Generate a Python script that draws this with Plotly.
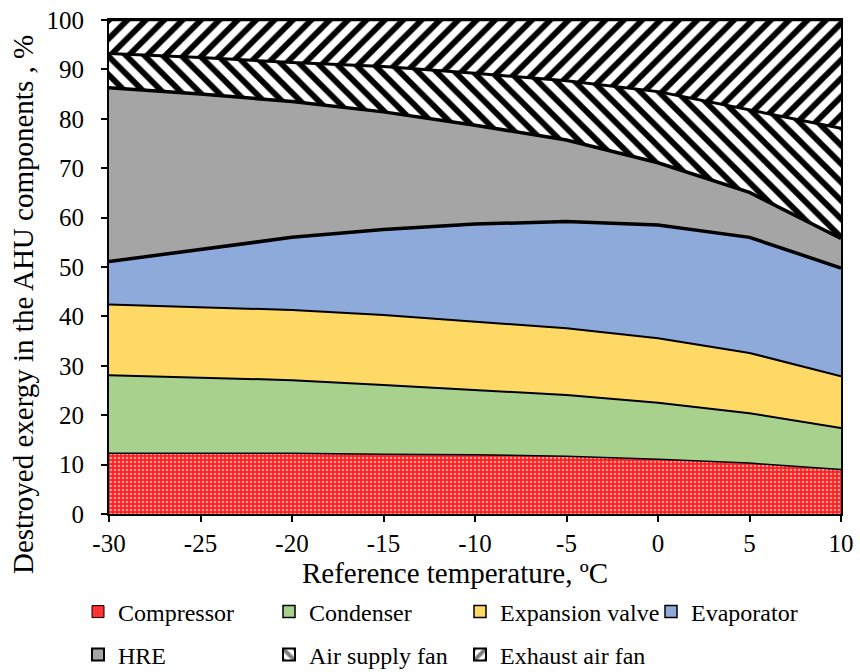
import plotly.graph_objects as go

# Reference temperature (°C)
temps = [-30, -25, -20, -15, -10, -5, 0, 5, 10]
x_tick_vals = [-30, -25, -20, -15, -10, -5, 0, 5, 10]
x_tick_text = ["-30", "-25", "-20", "-15", "-10", "-5", "0", "5", "10"]
y_tick_vals = [0, 10, 20, 30, 40, 50, 60, 70, 80, 90, 100]

# Share of destroyed exergy per AHU component (%)
compressor = [12.3, 12.3, 12.3, 12.1, 12.0, 11.7, 11.1, 10.3, 9.0]
condenser = [15.8, 15.3, 14.8, 14.0, 13.1, 12.4, 11.4, 10.1, 8.4]
expansion_valve = [14.3, 14.3, 14.2, 14.2, 13.8, 13.5, 13.1, 12.2, 10.5]
evaporator = [8.7, 11.6, 14.7, 17.3, 19.8, 21.6, 22.9, 23.4, 21.9]
hre = [35.2, 31.5, 27.5, 23.8, 20.0, 16.5, 12.6, 9.1, 6.0]
air_supply_fan = [6.9, 7.4, 7.9, 9.2, 10.5, 12.0, 14.4, 16.7, 22.3]
exhaust_air_fan = [6.8, 7.6, 8.6, 9.4, 10.8, 12.3, 14.5, 18.2, 21.9]

x_title = "Reference temperature, ºC"
y_title = "Destroyed exergy in the AHU components , %"

FONT = "Liberation Serif"

# Plot-area geometry in pixels
W, H = 860, 672
ML, MR, MT, MB = 109, 19, 20, 158
PW, PH = W - ML - MR, H - MT - MB


def px_to_paper_x(px):
    return (px - ML) / PW


def px_to_paper_y(py):
    return (H - MB - py) / PH


red_pattern = dict(shape=".", fgcolor="#ff9a9a", bgcolor="#ff1e1e", size=4, solidity=0.35, fillmode="replace")
back_hatch = dict(shape="\\", fgcolor="black", bgcolor="white", size=13, solidity=0.45, fillmode="replace")
fwd_hatch = dict(shape="/", fgcolor="black", bgcolor="white", size=13, solidity=0.45, fillmode="replace")

# name, values, fill style, boundary line width, legend key style, legend group
series = [
    ("Compressor", compressor, dict(fillcolor="#ff1e1e", fillpattern=red_pattern), 1.5,
     dict(color="#ff1e1e", pattern=dict(shape=".", fgcolor="#ff9a9a", bgcolor="#ff1e1e", size=3, solidity=0.35),
          line=dict(color="black", width=1)), "legend"),
    ("Condenser", condenser, dict(fillcolor="#a9d18e"), 2,
     dict(color="#a9d18e", line=dict(color="black", width=1.5)), "legend"),
    ("Expansion valve", expansion_valve, dict(fillcolor="#ffd966"), 2,
     dict(color="#ffd966", line=dict(color="black", width=1.5)), "legend"),
    ("Evaporator", evaporator, dict(fillcolor="#8eaadb"), 3.5,
     dict(color="#8eaadb", line=dict(color="black", width=1.5)), "legend"),
    ("HRE", hre, dict(fillcolor="#a5a5a5"), 3.5,
     dict(color="#a5a5a5", line=dict(color="black", width=2)), "legend2"),
    ("Air supply fan", air_supply_fan, dict(fillcolor="white", fillpattern=back_hatch), 3,
     dict(color="white", pattern=dict(shape="\\", fgcolor="black", bgcolor="white", size=12, solidity=0.5),
          line=dict(color="black", width=2)), "legend2"),
    ("Exhaust air fan", exhaust_air_fan, dict(fillcolor="white", fillpattern=fwd_hatch), 2.5,
     dict(color="white", pattern=dict(shape="/", fgcolor="black", bgcolor="white", size=12, solidity=0.5),
          line=dict(color="black", width=2)), "legend2"),
]

fig = go.Figure()

for name, vals, fill_style, lw, _, _ in series:
    fig.add_trace(go.Scatter(
        x=temps, y=vals, name=name, mode="lines", stackgroup="one",
        line=dict(color="black", width=lw), showlegend=False, hoverinfo="skip",
        **fill_style,
    ))

# Legend keys drawn as small squares
for name, _, _, _, key_style, leg in series:
    fig.add_trace(go.Bar(x=[None], y=[None], name=name, marker=key_style, showlegend=True, legend=leg))

legend_common = dict(
    orientation="h", xanchor="left", yanchor="middle",
    font=dict(family=FONT, size=24, color="black"),
    entrywidth=146, entrywidthmode="pixels", itemwidth=30,
    traceorder="normal", bgcolor="rgba(0,0,0,0)", borderwidth=0,
)

fig.update_layout(
    width=W, height=H,
    margin=dict(l=ML, r=MR, t=MT, b=MB, autoexpand=False),
    paper_bgcolor="white", plot_bgcolor="white",
    font=dict(family=FONT, color="black", size=24),
    showlegend=True,
    legend=dict(x=px_to_paper_x(78), y=px_to_paper_y(612), **legend_common),
    legend2=dict(x=px_to_paper_x(78), y=px_to_paper_y(655), **legend_common),
    xaxis=dict(
        range=[-30, 10], tickmode="array", tickvals=x_tick_vals, ticktext=x_tick_text,
        showgrid=False, zeroline=False, showline=True, linecolor="black", linewidth=2, mirror=True,
        ticks="outside", ticklen=6, tickwidth=1.5, tickcolor="black", automargin=False,
        tickfont=dict(family=FONT, size=25),
    ),
    yaxis=dict(
        range=[0, 100], tickmode="array", tickvals=y_tick_vals,
        showgrid=False, zeroline=False, showline=True, linecolor="black", linewidth=2, mirror=True,
        ticks="outside", ticklen=6, tickwidth=1.5, tickcolor="black", automargin=False,
        ticklabelstandoff=12,
        tickfont=dict(family=FONT, size=25),
    ),
    annotations=[
        dict(text=x_title, xref="paper", yref="paper", x=px_to_paper_x(455), y=px_to_paper_y(573),
             xanchor="center", yanchor="middle", showarrow=False, font=dict(family=FONT, size=29)),
        dict(text=y_title, xref="paper", yref="paper", x=px_to_paper_x(23), y=px_to_paper_y(305),
             xanchor="center", yanchor="middle", showarrow=False, textangle=-90,
             font=dict(family=FONT, size=29)),
    ],
)

fig.write_html("out.html")
